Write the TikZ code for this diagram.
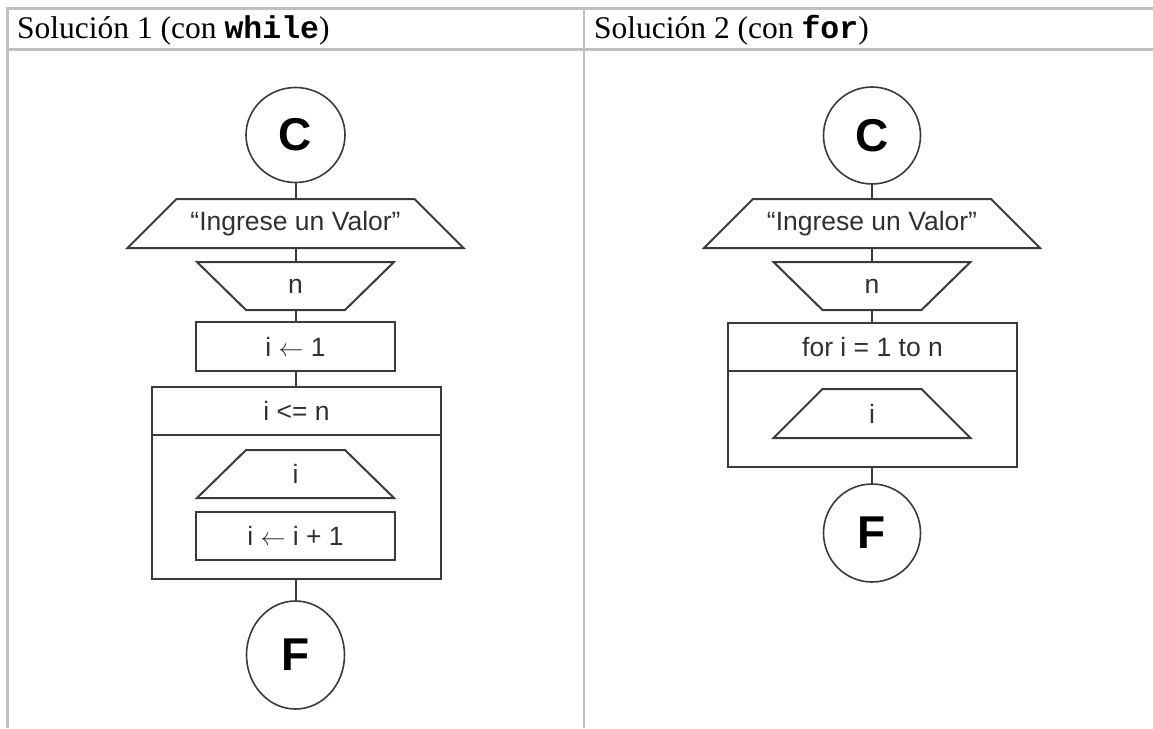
\documentclass[tikz,border=0pt]{standalone}
\usepackage{fontspec}
\setmainfont{Liberation Serif}
\setsansfont{Liberation Sans}
\setmonofont{Liberation Mono}
\usetikzlibrary{shapes.geometric}
\definecolor{gridgray}{HTML}{C0C0C0}
\definecolor{inkline}{HTML}{3A3A3A}
\definecolor{inktext}{HTML}{303030}
\newcommand{\assign}{\ensuremath{\leftarrow}}
\begin{document}
\begin{tikzpicture}[x=1pt,y=-1pt,
  tableline/.style={draw=gridgray, line width=2.4pt},
  headtext/.style={anchor=base west, inner sep=0pt, font=\fontsize{31.5}{34}\selectfont\rmfamily},
  lbl/.style={inner sep=0pt, outer sep=0pt, text=inktext, font=\fontsize{26.5}{30}\selectfont\sffamily},
  boxst/.style={lbl, draw=inkline, line width=2pt},
  shapeline/.style={draw=inkline, line width=2pt, line join=miter},
  terminal/.style={ellipse, draw=inkline, line width=1.6pt, inner sep=0pt, outer sep=0pt,
    font=\fontsize{46}{48}\selectfont\sffamily\bfseries},
  conn/.style={draw=inkline, line width=2pt}
]
\useasboundingbox (0,0) rectangle (1153,728);

% table grid
\draw[tableline] (6.3,8.5) -- (1153,8.5);
\draw[tableline] (6.3,49.5) -- (1153,49.5);
\draw[tableline] (7.5,7.3) -- (7.5,728);
\draw[tableline] (584,7.3) -- (584,728);

% column headings
\node[headtext] (h1) at (17,38) {Solución 1 (con \texttt{\bfseries while})};
\node[headtext] (h2) at (594,38) {Solución 2 (con \texttt{\bfseries for})};

% ---------- solution 1: while ----------
\node[terminal, minimum width=99pt, minimum height=95pt] (c1) at (295.5,135) {C};
\node[lbl, minimum width=336pt, minimum height=49pt] (in1) at (295.5,223.5) {“Ingrese un Valor"};
\draw[shapeline] (in1.south west) -- (in1.south east) -- ([xshift=-49pt]in1.north east)
  -- ([xshift=49pt]in1.north west) -- cycle;
\node[lbl, minimum width=197pt, minimum height=48pt] (rd1) at (295.5,286) {n};
\draw[shapeline] (rd1.north west) -- (rd1.north east) -- ([xshift=-49pt]rd1.south east)
  -- ([xshift=49pt]rd1.south west) -- cycle;
\node[boxst, minimum width=199pt, minimum height=49pt] (as1) at (295.5,346.5) {i \assign{} 1};
\node[boxst, minimum width=289pt, minimum height=48pt] (wh1) at (296.5,411) {i <= n};
\node[boxst, minimum width=289pt, minimum height=144pt] (body1) at (296.5,507) {};
\node[lbl, minimum width=197pt, minimum height=48pt] (out1) at (295.5,474) {i};
\draw[shapeline] (out1.south west) -- (out1.south east) -- ([xshift=-49pt]out1.north east)
  -- ([xshift=49pt]out1.north west) -- cycle;
\node[boxst, minimum width=199pt, minimum height=48pt] (inc1) at (295.5,536) {i \assign{} i + 1};
\node[terminal, minimum width=98pt, minimum height=108pt] (f1) at (295.5,655) {F};

\draw[conn] (c1.south) -- (in1.north);
\draw[conn] (in1.south) -- (rd1.north);
\draw[conn] (rd1.south) -- (as1.north);
\draw[conn] (as1.south) -- (as1.south |- wh1.north);
\draw[conn] (body1.south -| f1.north) -- (f1.north);

% ---------- solution 2: for ----------
\node[terminal, minimum width=97pt, minimum height=97pt] (c2) at (872,135.5) {C};
\node[lbl, minimum width=336pt, minimum height=49pt] (in2) at (872,223.5) {“Ingrese un Valor"};
\draw[shapeline] (in2.south west) -- (in2.south east) -- ([xshift=-49pt]in2.north east)
  -- ([xshift=49pt]in2.north west) -- cycle;
\node[lbl, minimum width=197pt, minimum height=48pt] (rd2) at (872,286) {n};
\draw[shapeline] (rd2.north west) -- (rd2.north east) -- ([xshift=-49pt]rd2.south east)
  -- ([xshift=49pt]rd2.south west) -- cycle;
\node[boxst, minimum width=289pt, minimum height=48pt] (fr2) at (872.5,347) {for i = 1 to n};
\node[boxst, minimum width=289pt, minimum height=96pt] (body2) at (872.5,419) {};
\node[lbl, minimum width=197pt, minimum height=49pt] (out2) at (872,413.5) {i};
\draw[shapeline] (out2.south west) -- (out2.south east) -- ([xshift=-49pt]out2.north east)
  -- ([xshift=49pt]out2.north west) -- cycle;
\node[terminal, minimum width=97pt, minimum height=98pt] (f2) at (872,533) {F};

\draw[conn] (c2.south) -- (in2.north);
\draw[conn] (in2.south) -- (rd2.north);
\draw[conn] (rd2.south) -- (rd2.south |- fr2.north);
\draw[conn] (body2.south -| f2.north) -- (f2.north);
\end{tikzpicture}
\end{document}
